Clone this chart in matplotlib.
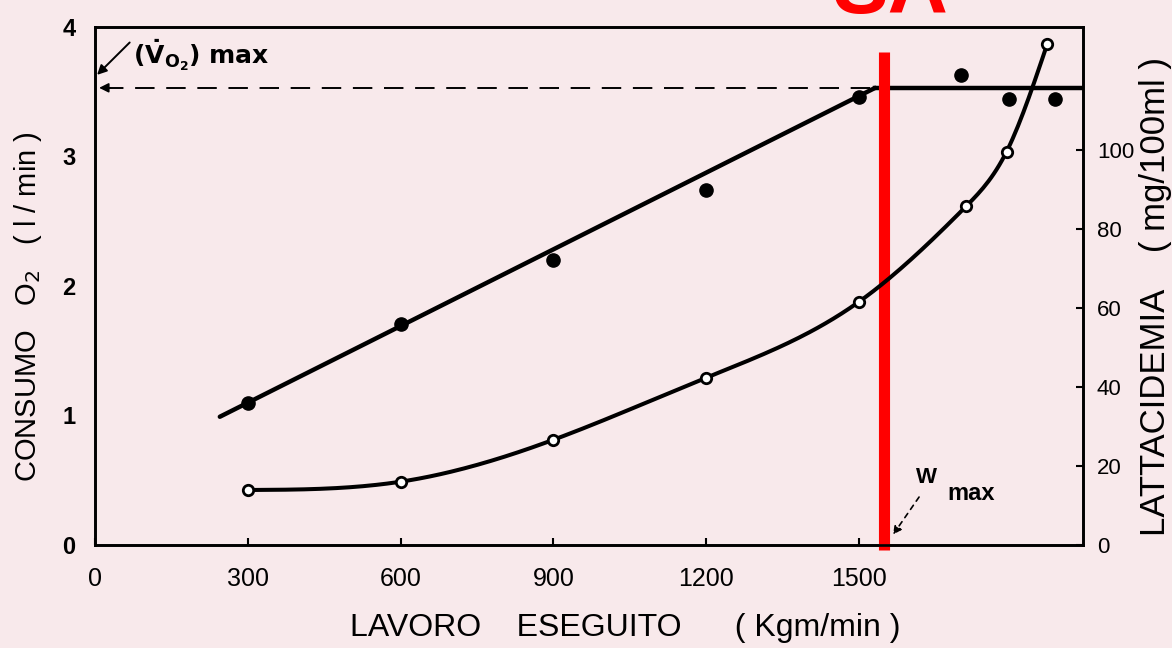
import numpy as np
import matplotlib
matplotlib.use('Agg')
import matplotlib.pyplot as plt

plt.rcParams['font.family'] = ['Liberation Sans', 'DejaVu Sans']

# work load (Kgm/min)
work_ticks = [0, 300, 600, 900, 1200, 1500]

# oxygen consumption (l/min), filled dots
vo2_work = [300, 600, 900, 1200, 1500, 1700, 1795, 1885]
vo2_vals = [1.10, 1.71, 2.20, 2.74, 3.46, 3.63, 3.44, 3.44]

# straight line fitted through the VO2 points, then plateau at VO2 max
vo2_fit_work = [245, 1532]
vo2_fit_vals = [0.99, 3.53]
vo2_max = 3.53

# blood lactate (mg/100ml), open circles
lac_work = [300, 600, 900, 1200, 1500, 1710, 1790, 1870]
lac_vals = [13.9, 16.0, 26.6, 42.3, 61.5, 85.6, 99.5, 126.8]

# maximal work load marker
w_max = 1550

bg = '#f8e9eb'


def natural_spline(x, y, xs):
    """natural cubic spline through (x, y), evaluated at xs"""
    x = np.asarray(x, float)
    y = np.asarray(y, float)
    n = len(x)
    h = np.diff(x)
    A = np.zeros((n, n))
    r = np.zeros(n)
    A[0, 0] = A[-1, -1] = 1
    for i in range(1, n - 1):
        A[i, i - 1] = h[i - 1]
        A[i, i] = 2 * (h[i - 1] + h[i])
        A[i, i + 1] = h[i]
        r[i] = 3 * ((y[i + 1] - y[i]) / h[i] - (y[i] - y[i - 1]) / h[i - 1])
    c = np.linalg.solve(A, r)
    b = (y[1:] - y[:-1]) / h - h * (2 * c[:-1] + c[1:]) / 3
    d = (c[1:] - c[:-1]) / (3 * h)
    idx = np.clip(np.searchsorted(x, xs) - 1, 0, n - 2)
    dx = xs - x[idx]
    return y[idx] + b[idx] * dx + c[idx] * dx ** 2 + d[idx] * dx ** 3


fig = plt.figure(figsize=(11.72, 6.48), dpi=100, facecolor=bg)
ax = fig.add_axes([0.0811, 0.1590, 0.8430, 0.7994], facecolor=bg)
ax2 = ax.twinx()

ax.set_xlim(0, 1940)
ax.set_ylim(0, 4)
ax2.set_ylim(0, 131)

for a in (ax, ax2):
    for s in a.spines.values():
        s.set_linewidth(1.9)
        s.set_color('black')

# VO2: fitted line, plateau and dots
ax.plot(vo2_fit_work, vo2_fit_vals, color='black', lw=3.2, solid_capstyle='round')
ax.plot([vo2_fit_work[1], 1940], [vo2_max, vo2_max], color='black', lw=3.2)
ax.plot(vo2_work, vo2_vals, 'o', color='black', ms=9.5)

# dashed projection of VO2 max onto the left axis
ax.plot([18, vo2_fit_work[1]], [vo2_max, vo2_max], color='black', lw=1.4,
        dashes=(10, 6))
ax.annotate('', xy=(8, vo2_max), xytext=(30, vo2_max),
            arrowprops=dict(arrowstyle='-|>', color='black', lw=1.2,
                            mutation_scale=14, shrinkA=0, shrinkB=0))

# lactate curve and open circles
xs = np.linspace(lac_work[0], lac_work[-1], 300)
ax2.plot(xs, natural_spline(lac_work, lac_vals, xs), color='black', lw=2.9)
ax2.plot(lac_work, lac_vals, 'o', mfc='white', mec='black', mew=2, ms=7.5)

# maximal work load
ax.plot([w_max, w_max], [-0.04, 3.81], color='#ff0000', lw=8,
        solid_capstyle='butt', clip_on=False, zorder=5)

# ticks
ax.set_xticks(work_ticks)
ax.set_xticklabels([str(v) for v in work_ticks], fontsize=18)
ax.tick_params(axis='x', direction='in', length=5, width=1.5, pad=16)
ax.set_yticks([0, 1, 2, 3, 4])
ax.set_yticklabels(['0', '1', '2', '3', '4'], fontsize=17, fontweight='bold')
ax.tick_params(axis='y', length=0, pad=14)
ax2.set_yticks([0, 20, 40, 60, 80, 100])
ax2.set_yticklabels(['0', '20', '40', '60', '80', '100'], fontsize=16)
ax2.tick_params(axis='y', direction='in', length=5, width=1.5, pad=10)

# axis titles
fig.text(28 / 1172, 1 - 307 / 648, r'CONSUMO   O$_2$   ( l / min )', rotation=90,
         ha='center', va='center', fontsize=21)
fig.text(1156 / 1172, 1 - 297 / 648, 'LATTACIDEMIA    ( mg/100ml )', rotation=90,
         ha='center', va='center', fontsize=25)
fig.text(625 / 1172, 1 - 628 / 648, 'LAVORO    ESEGUITO      ( Kgm/min )',
         ha='center', va='center', fontsize=23)

# annotations
ax.text(75, 3.78, r'$\mathbf{(\dot{V}_{O_2})\ max}$', fontsize=18, va='center')
ax.annotate('', xy=(4, 3.63), xytext=(68, 3.88),
            arrowprops=dict(arrowstyle='-|>', color='black', lw=1.4,
                            mutation_scale=14, shrinkA=0, shrinkB=0))
ax.text(1612, 0.52, 'W', fontsize=16, fontweight='bold', va='center')
ax.text(1673, 0.40, 'max', fontsize=17, fontweight='bold', va='center')
ax.annotate('', xy=(1567, 0.08), xytext=(1618, 0.37),
            arrowprops=dict(arrowstyle='-|>', color='black', lw=1.2,
                            linestyle=(0, (3, 3)), mutation_scale=12,
                            shrinkA=0, shrinkB=0))

fig.text(833 / 1172, 1 - 13 / 648, 'SA', color='#ff0000', fontsize=60,
         fontweight='bold', ha='left', va='baseline')

fig.savefig('out.png', dpi=100, facecolor=bg)
